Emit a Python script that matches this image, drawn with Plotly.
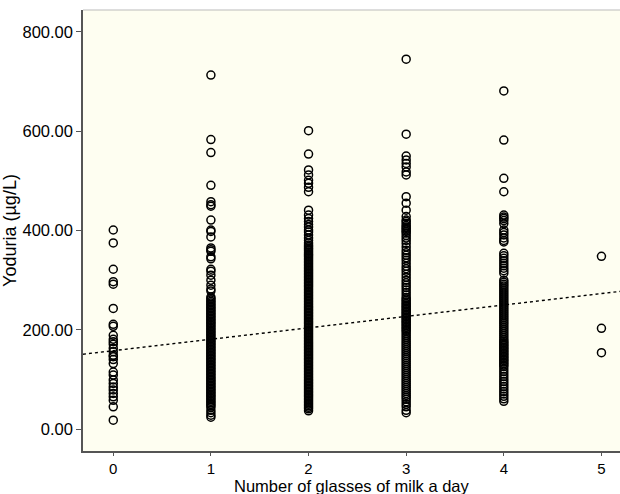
import plotly.graph_objects as go

# ---- data ----
glasses = [0, 1, 2, 3, 4, 5]
x_tick_labels = ["0", "1", "2", "3", "4", "5"]
y_tick_values = [0, 200, 400, 600, 800]
y_tick_labels = ["0.00", "200.00", "400.00", "600.00", "800.00"]
x_title = "Number of glasses of milk a day"
y_title = "Yoduria (µg/L)"

iodine_0 = [401, 375, 322, 297, 292, 243, 211, 207, 189, 181, 176, 171, 163, 156,
            149, 146, 140, 132, 115, 109, 99, 92, 85, 79, 72, 65, 58, 45, 18]

iodine_1 = [713, 583, 557, 491, 458, 452, 449, 421, 401, 398, 387, 365, 361, 358,
            347, 343, 322, 318, 310, 300, 290, 282, 278,
            266, 263, 260, 257, 254, 251, 248, 245, 242, 239, 236, 233, 230, 227,
            224, 221, 218, 215, 212, 209, 206, 203, 200, 197, 194, 191, 188, 185,
            182, 179, 176, 173, 170, 167, 164, 161, 158, 155, 152, 149, 146, 143,
            140, 137, 134, 131, 128, 125, 122, 119, 116, 113, 110, 107, 104, 101,
            98, 95, 92, 89, 86, 83, 80, 77, 74, 71, 68, 65, 62, 59, 56, 53, 50,
            47, 44, 38, 33, 28, 24]

iodine_2 = [601, 554, 522, 512, 501, 495, 487, 478, 441, 431, 424, 418, 412, 407,
            401, 397, 391, 385, 380, 375,
            371, 368, 365, 362, 359, 356, 353, 350, 347, 344, 341, 338, 335, 332,
            329, 326, 323, 320, 317, 314, 311, 308, 305, 302, 299, 296, 293, 290,
            287, 284, 281, 278, 275, 272, 269, 266, 263, 260, 257, 254, 251, 248,
            245, 242, 239, 236, 233, 230, 227, 224, 221, 218, 215, 212, 209, 206,
            203, 200, 197, 194, 191, 188, 185, 182, 179, 176, 173, 170, 167, 164,
            161, 158, 155, 152, 149, 146, 143, 140, 137, 134, 131, 128, 125, 122,
            119, 116, 113, 110, 107, 104, 101, 98, 95, 92, 89, 86, 83, 80, 77, 74,
            71, 68, 65, 62, 59, 56, 53, 50, 47, 44, 41, 37]

iodine_3 = [745, 594, 550, 542, 535, 528, 518, 512, 468, 455, 441, 428, 421, 418,
            414, 410, 407, 404, 401, 398, 395, 390, 385, 380, 374, 367, 360, 355,
            350, 345, 340, 334, 328, 323, 318, 312, 306, 300, 295, 290, 285, 280,
            275, 270, 265,
            262, 259, 256, 253, 250, 247, 244, 241, 238, 235, 232, 229, 226, 223,
            220, 217, 214, 211, 208, 205, 202, 199, 196,
            192, 188, 184, 180, 176, 172, 168, 164, 160, 156, 152, 148, 144, 140,
            136, 132, 128, 124, 120, 116, 112, 108, 104, 100, 96, 92, 88, 84, 80,
            76, 72, 68, 64, 60, 55, 50, 45, 38, 33]

iodine_4 = [681, 582, 505, 478, 431, 427, 424, 420, 414, 401, 396, 391, 385, 380,
            377, 354, 349, 344, 339, 334, 329, 324, 319, 314,
            300, 296, 292, 288, 284, 280, 276, 272, 268, 264, 260, 256, 252, 248,
            244, 240, 236, 232, 228, 224, 220, 216, 212, 208, 204, 200, 196, 192,
            188, 184, 180,
            177, 174, 171, 168, 165, 162, 159, 156, 153, 150, 147, 144, 141, 138,
            135, 132, 129, 126,
            121, 116, 111, 106, 101, 96, 91, 86, 81, 76, 71, 66, 61, 56]

iodine_5 = [348, 203, 154]

fit_intercept = 158.0
fit_slope = 23.0

columns = [iodine_0, iodine_1, iodine_2, iodine_3, iodine_4, iodine_5]

x_range = [-0.31, 5.19]
y_range = [-44, 844]

xs, ys = [], []
for g, vals in zip(glasses, columns):
    xs.extend([g] * len(vals))
    ys.extend(vals)

fig = go.Figure()

fig.add_trace(go.Scatter(
    x=xs, y=ys, mode="markers",
    marker=dict(symbol="circle-open", size=8, color="black", line=dict(width=1.5, color="black")),
    showlegend=False, hoverinfo="skip",
))

fig.add_trace(go.Scatter(
    x=x_range,
    y=[fit_intercept + fit_slope * x_range[0], fit_intercept + fit_slope * x_range[1]],
    mode="lines",
    line=dict(color="black", width=1.4, dash="dot"),
    showlegend=False, hoverinfo="skip",
))

# marker at 800 on y-axis
fig.add_trace(go.Scatter(
    x=[x_range[0] - 0.02], y=[y_tick_values[-1]], mode="markers",
    marker=dict(symbol="triangle-down-open", size=7, color="#333", line=dict(width=1, color="#333")),
    cliponaxis=False, showlegend=False, hoverinfo="skip",
))

fig.update_layout(
    width=620, height=494,
    margin=dict(l=83, r=0, t=10, b=43, autoexpand=False),
    paper_bgcolor="white",
    plot_bgcolor="#FEFEF1",
    font=dict(family="Liberation Sans, Arial, sans-serif", size=16, color="black"),
    xaxis=dict(
        range=x_range, tickmode="array", tickvals=glasses, ticktext=x_tick_labels,
        showgrid=False, zeroline=False, showline=True, linecolor="#555", linewidth=1.5,
        ticks="outside", ticklen=3, tickcolor="#555", tickwidth=1.2,
        tickfont=dict(size=15), automargin=False,
    ),
    yaxis=dict(
        range=y_range, tickmode="array", tickvals=y_tick_values, ticktext=y_tick_labels,
        showgrid=False, zeroline=False, showline=True, linecolor="#555", linewidth=1.5,
        ticks="outside", ticklen=5, tickcolor="#555", tickwidth=1.2, ticklabelstandoff=0,
        title=dict(text=y_title, font=dict(size=18), standoff=2),
        tickfont=dict(size=16.5), automargin=False,
    ),
    annotations=[dict(text=x_title, xref="paper", yref="paper", x=0.5, y=0,
                      xanchor="center", yanchor="middle", yshift=-35, showarrow=False,
                      font=dict(size=16.5))],
    shapes=[dict(type="line", xref="paper", yref="paper", x0=0, x1=1, y0=1, y1=1,
                 line=dict(color="#bbbbbb", width=1))],
)

fig.write_html(
    "out.html",
    config={"displayModeBar": False},
    post_script="document.body.style.margin='0';document.body.style.overflow='hidden';",
)
